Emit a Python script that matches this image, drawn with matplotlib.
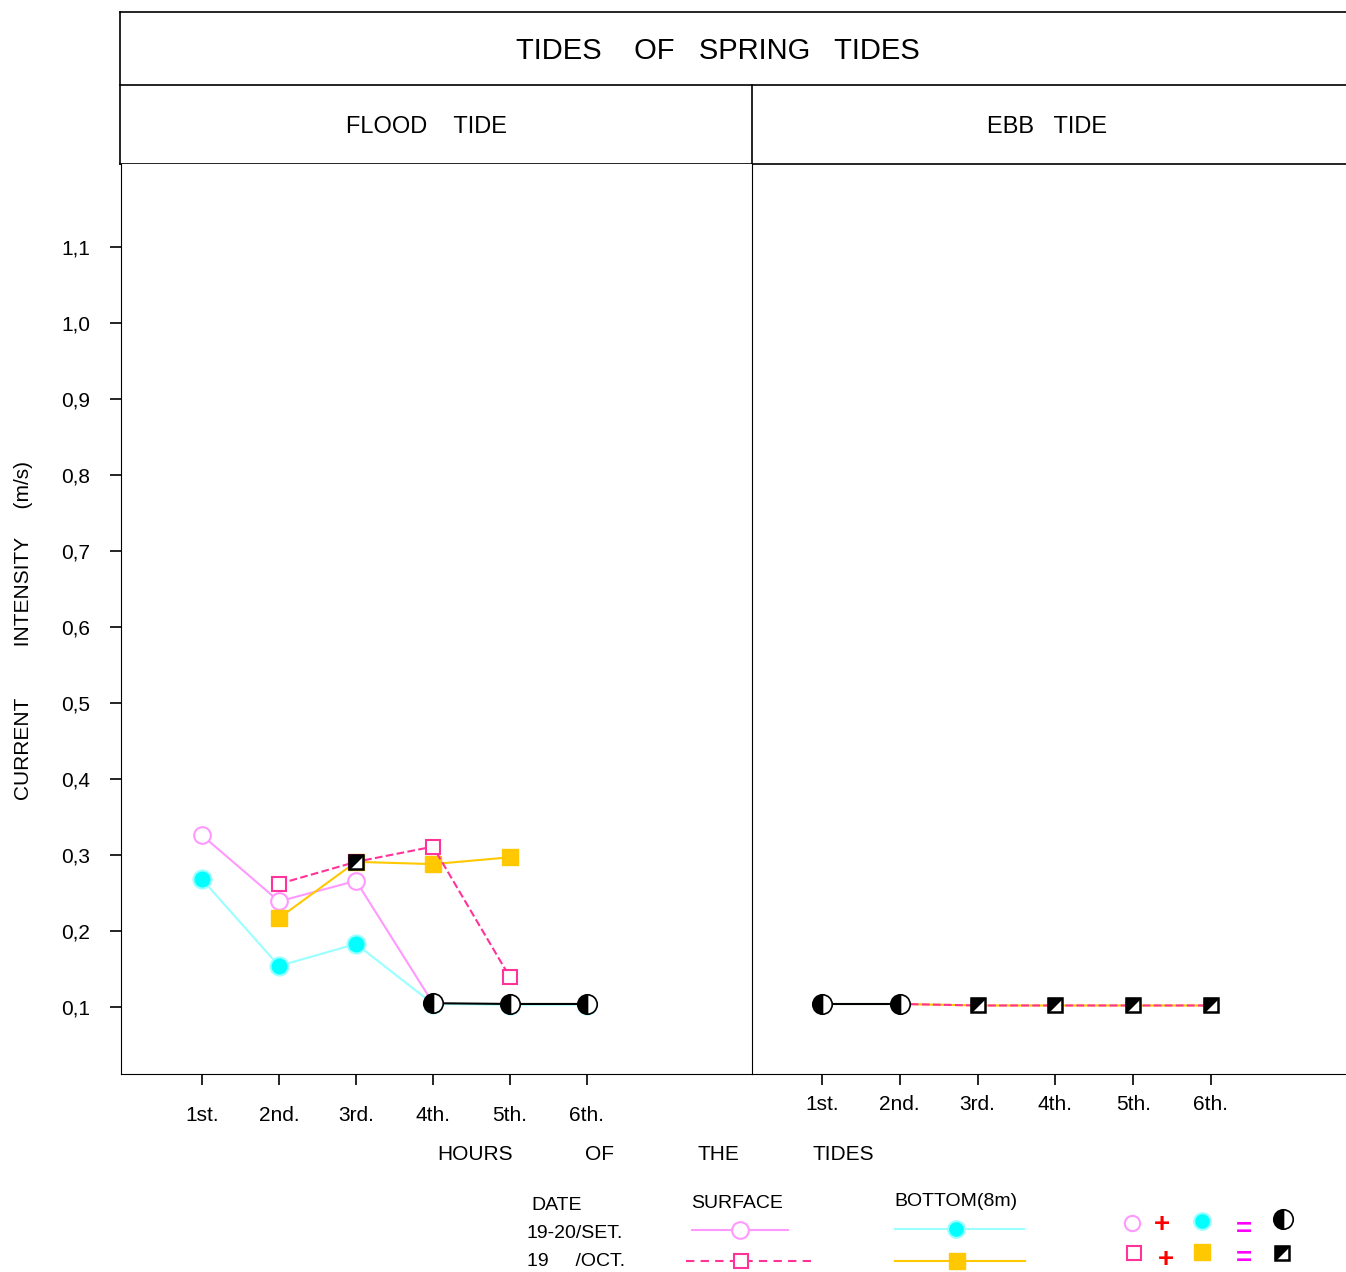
"""
Current intensity during spring tides: flood tide vs ebb tide,
surface and bottom (8m), two sampling dates.
"""

import matplotlib
matplotlib.use("Agg")
import matplotlib.pyplot as plt
from matplotlib.path import Path

plt.rcParams["font.family"] = ["Liberation Sans", "DejaVu Sans"]

# ---- data ----
hour_labels = ["1st.", "2nd.", "3rd.", "4th.", "5th.", "6th."]
hours = [1, 2, 3, 4, 5, 6]
y_ticks = [0.1, 0.2, 0.3, 0.4, 0.5, 0.6, 0.7, 0.8, 0.9, 1.0, 1.1]
y_tick_labels = ["0,1", "0,2", "0,3", "0,4", "0,5", "0,6", "0,7", "0,8", "0,9", "1,0", "1,1"]

# flood tide
flood_surf_set_x = [1, 2, 3, 4]
flood_surf_set = [0.326, 0.239, 0.266, 0.105]
flood_bot_set_x = [1, 2, 3, 4, 5, 6]
flood_bot_set = [0.268, 0.154, 0.183, 0.104, 0.103, 0.103]
flood_surf_oct_x = [2, 3, 4, 5]
flood_surf_oct = [0.262, 0.291, 0.311, 0.139]
flood_bot_oct_x = [2, 3, 4, 5]
flood_bot_oct = [0.217, 0.291, 0.288, 0.297]
flood_both_set_x = [4, 5, 6]
flood_both_set = [0.105, 0.104, 0.104]
flood_both_oct_x = [3]
flood_both_oct = [0.291]

# ebb tide
ebb_set_x = [1, 2]
ebb_set = [0.104, 0.104]
ebb_oct_x = [3, 4, 5, 6]
ebb_oct = [0.102, 0.102, 0.102, 0.102]

# ---- styles ----
PINK = "#ff99ff"
HOTPINK = "#ff3399"
CYAN = "#00ffff"
CYAN_LINE = "#99ffff"
GOLD = "#ffc800"
DIAG = Path([(-1, -1), (-1, 1), (1, 1), (-1, -1)], closed=True)

W, H = 1346, 1272
fig = plt.figure(figsize=(W / 100, H / 100), dpi=100)


def px_rect(x0, y0, x1, y1):
    return [x0 / W, 1 - y1 / H, (x1 - x0) / W, (y1 - y0) / H]


ylim = (0.1 - 67 / 760, 1.1 + 83 / 760)
ax_l = fig.add_axes(px_rect(121, 164, 752, 1074))
ax_r = fig.add_axes(px_rect(752, 164, 1346, 1074))
ax_r.patch.set_visible(False)
ax_l.set_xlim(1 - 81 * 5 / 385, 1 + 550 * 5 / 385)
ax_r.set_xlim(1 - 70 * 5 / 389, 1 + 524 * 5 / 389)
for ax in (ax_l, ax_r):
    ax.set_ylim(*ylim)
    ax.set_xticks(hours)
    ax.set_xticklabels(hour_labels, fontsize=15)
    ax.spines["top"].set_visible(False)
    ax.tick_params(axis="x", direction="out", length=8, width=1.2)

ax_l.tick_params(axis="x", pad=15)
ax_r.tick_params(axis="x", pad=7)
ax_l.set_yticks(y_ticks)
ax_l.set_yticklabels(y_tick_labels, fontsize=15)
ax_l.tick_params(axis="y", direction="out", length=8, width=1.2, pad=14)
ax_r.set_yticks([])
ax_r.spines["left"].set_visible(False)
ax_r.spines["right"].set_visible(False)


def half_circle(ax, x, y, ms=14):
    ax.plot(x, y, "o", ms=ms, fillstyle="left", markerfacecolor="black",
            markerfacecoloralt="white", markeredgecolor="black", mew=1.2, zorder=6)


def diag_square(ax, x, y, ms=10):
    ax.plot(x, y, "s", ms=ms, markerfacecolor="white", markeredgecolor="black",
            mew=1.8, zorder=6)
    ax.plot(x, y, marker=DIAG, ls="none", ms=ms * 0.95, color="black", zorder=7)


# flood tide panel
ax_l.plot(flood_bot_set_x, flood_bot_set, "-o", color=CYAN_LINE, lw=1.5, ms=13,
          markerfacecolor=CYAN, markeredgecolor=CYAN_LINE, mew=1.5, zorder=3)
ax_l.plot(flood_surf_set_x, flood_surf_set, "-o", color=PINK, lw=1.5, ms=12,
          markerfacecolor="white", markeredgecolor=PINK, mew=1.5, zorder=3)
ax_l.plot(flood_bot_oct_x, flood_bot_oct, "-s", color=GOLD, lw=1.5, ms=11,
          markerfacecolor=GOLD, markeredgecolor=GOLD, zorder=4)
ax_l.plot(flood_surf_oct_x, flood_surf_oct, "--s", color=HOTPINK, lw=1.5, ms=10,
          markerfacecolor="white", markeredgecolor=HOTPINK, mew=1.5, zorder=4)
ax_l.plot(flood_both_set_x, flood_both_set, "-", color="black", lw=1.5, zorder=5)
half_circle(ax_l, flood_both_set_x, flood_both_set)
diag_square(ax_l, flood_both_oct_x, flood_both_oct)

# ebb tide panel
ax_r.plot(ebb_set_x, ebb_set, "-", color=CYAN_LINE, lw=1.5, zorder=3)
ax_r.plot(ebb_set_x, ebb_set, "-", color="black", lw=1.5, zorder=4)
ax_r.plot([ebb_set_x[-1]] + ebb_oct_x, [ebb_set[-1]] + ebb_oct, "-", color=GOLD, lw=1.5, zorder=3)
ax_r.plot([ebb_set_x[-1]] + ebb_oct_x, [ebb_set[-1]] + ebb_oct, "--", color=HOTPINK, lw=1.5, zorder=4)
half_circle(ax_r, ebb_set_x, ebb_set)
diag_square(ax_r, ebb_oct_x, ebb_oct)

# ---- overlay in pixel coordinates: header boxes, labels, legend ----
ov = fig.add_axes([0, 0, 1, 1], zorder=-1)
ov.set_xlim(0, W)
ov.set_ylim(H, 0)
ov.axis("off")
ov.patch.set_alpha(0)

for y in (12, 85, 164):
    ov.plot([120, W], [y, y], color="black", lw=1.2)
ov.plot([120, 120], [12, 164], color="black", lw=1.2)
ov.plot([752, 752], [85, 164], color="black", lw=1.2)

ov.text(718, 51, "TIDES    OF   SPRING   TIDES", ha="center", va="center", fontsize=21)
ov.text(427, 127, "FLOOD    TIDE", ha="center", va="center", fontsize=17)
ov.text(1047, 127, "EBB   TIDE", ha="center", va="center", fontsize=17)
ov.text(24, 630, "CURRENT         INTENSITY     (m/s)", ha="center", va="center",
        rotation=90, fontsize=15)
for word, x in zip(["HOURS", "OF", "THE", "TIDES"], [475, 600, 718, 843]):
    ov.text(x, 1154, word, ha="center", va="center", fontsize=15)

# legend
ov.text(531, 1205, "DATE", ha="left", va="center", fontsize=14)
ov.text(737, 1204, "SURFACE", ha="center", va="center", fontsize=14)
ov.text(956, 1201, "BOTTOM(8m)", ha="center", va="center", fontsize=14)
ov.text(527, 1234, "19-20/SET.", ha="left", va="center", fontsize=14)
ov.text(527, 1261, "19     /OCT.", ha="left", va="center", fontsize=14)

ov.plot([692, 788], [1230, 1230], "-", color=PINK, lw=1.5)
ov.plot([740], [1230], "o", ms=12, markerfacecolor="white", markeredgecolor=PINK, mew=1.5)
ov.plot([686, 812], [1261, 1261], "--", color=HOTPINK, lw=1.5, dashes=(4, 3))
ov.plot([741], [1261], "s", ms=10, markerfacecolor="white", markeredgecolor=HOTPINK, mew=1.5)
ov.plot([895, 1024], [1229, 1229], "-", color=CYAN_LINE, lw=1.5)
ov.plot([956], [1229], "o", ms=12, markerfacecolor=CYAN, markeredgecolor=CYAN_LINE, mew=1.5)
ov.plot([895, 1025], [1261, 1261], "-", color=GOLD, lw=1.5)
ov.plot([957], [1261], "s", ms=11, color=GOLD)

ov.plot([1132], [1223], "o", ms=11, markerfacecolor="white", markeredgecolor=PINK, mew=1.5)
ov.text(1162, 1225, "+", color="red", ha="center", va="center", fontsize=20, fontweight="bold")
ov.plot([1202], [1221], "o", ms=12, markerfacecolor=CYAN, markeredgecolor=CYAN_LINE, mew=1.5)
ov.text(1244, 1230, "=", color="#ff00ff", ha="center", va="center", fontsize=20, fontweight="bold")
ov.plot([1134], [1253], "s", ms=10, markerfacecolor="white", markeredgecolor=HOTPINK, mew=1.5)
ov.text(1166, 1260, "+", color="red", ha="center", va="center", fontsize=20, fontweight="bold")
ov.plot([1202], [1252], "s", ms=11, color=GOLD)
ov.text(1244, 1259, "=", color="#ff00ff", ha="center", va="center", fontsize=20, fontweight="bold")
half_circle(ov, [1283], [1219], ms=14)
diag_square(ov, [1282], [1253], ms=10)

fig.savefig("out.png", dpi=100)
